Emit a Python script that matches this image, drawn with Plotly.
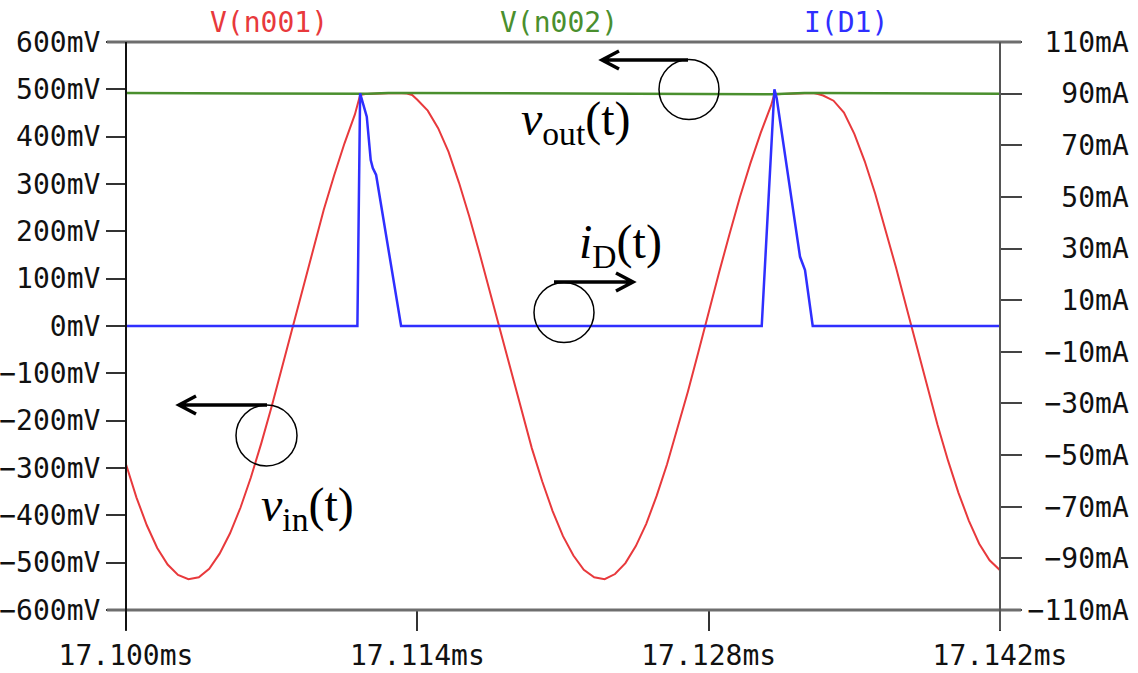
import plotly.graph_objects as go

# ---------------- data ----------------
T0_MS = 17.100

# V(n001): time offset (µs from 17.100 ms) and voltage (mV)
vin_t_us = [0, 0.5, 1.0, 1.5, 2.0, 2.5, 3.0, 3.5, 4.0, 4.5, 5.0, 5.5, 6.0, 6.5, 7.0, 7.5,
            8.0, 8.5, 9.0, 9.5, 10.0, 10.5, 11.0, 11.25, 11.5, 12.0, 12.5, 13.0, 13.5, 13.75,
            14.0, 14.5, 15.0, 15.5, 16.0, 16.5, 17.0, 17.5, 18.0, 18.5, 19.0, 19.5, 20.0,
            20.5, 21.0, 21.5, 22.0, 22.5, 23.0, 23.5, 24.0, 24.5, 25.0, 25.5, 26.0, 26.5,
            27.0, 27.5, 28.0, 28.5, 29.0, 29.5, 30.0, 30.5, 31.0, 31.15, 31.5, 32.0, 32.5,
            33.0, 33.25, 33.5, 34.0, 34.5, 35.0, 35.5, 36.0, 36.5, 37.0, 37.5, 38.0, 38.5,
            39.0, 39.5, 40.0, 40.5, 41.0, 41.5, 42.0]
vin_mv = [-292, -362, -421, -469, -504, -526, -535, -531, -513, -481, -438, -384, -320, -248,
          -170, -87, -2, 83, 166, 245, 318, 386, 447, 488, 490, 491, 492, 492, 491, 488,
          478, 455, 418, 368, 303, 231, 152, 70, -14, -99, -180, -258, -328,
          -391, -444, -485, -515, -531, -535, -524, -501, -465, -418, -359, -292, -218,
          -139, -56, 30, 113, 194, 272, 343, 408, 466, 489, 490, 491, 492,
          492, 490, 487, 476, 451, 406, 348, 280, 204, 124, 40, -45, -128,
          -209, -284, -352, -411, -460, -495, -516]

# V(n002)
vout_t_us = [0, 11.2, 11.6, 12.6, 13.4, 31.0, 31.4, 32.6, 33.3, 42.0]
vout_mv = [492, 489.5, 490.5, 492.5, 492.5, 489.5, 490.5, 492.5, 492.5, 490.5]

# I(D1) in mA
id_t_us = [0, 11.12, 11.25, 11.57, 11.76, 11.86, 12.02, 13.22, 30.55, 31.16, 31.27,
           32.39, 32.63, 33.00, 42.0]
id_ma = [0, 0, 90.1, 81.1, 64.3, 61.2, 58.5, 0, 0, 91.7, 88.2, 26.8, 21.7, 0, 0]

x_ticks = [17.100, 17.114, 17.128, 17.142]
x_ticktext = ["17.100ms", "17.114ms", "17.128ms", "17.142ms"]
yl_ticks = [600, 500, 400, 300, 200, 100, 0, -100, -200, -300, -400, -500, -600]
yr_ticks = [110, 90, 70, 50, 30, 10, -10, -30, -50, -70, -90, -110]

# ---------------- styling helpers ----------------
W, H = 1138, 673
L, R, TOP, BOT = 126, 1000, 42, 610
NB = "\u00a0"
MINUS = "\u2212"


def fx(px):
    return (px - L) / (R - L)


def fy(py):
    return (BOT - py) / (BOT - TOP)


def mv_label(v):
    return (MINUS if v < 0 else "") + f"{abs(v)}mV"


def ma_label(v):
    s = (MINUS if v < 0 else "") + f"{abs(v)}mA"
    return NB * (6 - len(s)) + s


def to_ms(ts):
    return [T0_MS + t / 1000.0 for t in ts]


RED = "#e8393c"
GREEN = "#4a8f2e"
BLUE = "#2f2fff"
MONO = "DejaVu Sans Mono"
SERIF = "Liberation Serif"

fig = go.Figure()
fig.add_trace(go.Scatter(x=to_ms(vin_t_us), y=vin_mv, mode="lines",
                         line=dict(color=RED, width=2), name="V(n001)"))
fig.add_trace(go.Scatter(x=to_ms(vout_t_us), y=vout_mv, mode="lines",
                         line=dict(color=GREEN, width=2.5), name="V(n002)"))
fig.add_trace(go.Scatter(x=to_ms(id_t_us), y=id_ma, mode="lines", yaxis="y2",
                         line=dict(color=BLUE, width=2.5), name="I(D1)"))

tickfont = dict(family=MONO, size=28, color="#111")
fig.update_layout(
    width=W, height=H,
    margin=dict(l=L, r=W - R, t=TOP, b=H - BOT, pad=0, autoexpand=False),
    paper_bgcolor="white", plot_bgcolor="white",
    showlegend=False,
    xaxis=dict(range=[17.100, 17.142], tickvals=x_ticks, ticktext=x_ticktext,
               ticks="outside", ticklen=20, tickwidth=2, tickcolor="#333", automargin=False,
               showgrid=False, zeroline=False, showline=False, tickfont=tickfont),
    yaxis=dict(range=[-600, 600], tickvals=yl_ticks, ticktext=[mv_label(v) for v in yl_ticks],
               ticks="outside", ticklen=19, tickwidth=2, tickcolor="#333", automargin=False,
               showgrid=False, zeroline=False, showline=False, tickfont=tickfont),
    yaxis2=dict(range=[-110, 110], tickvals=yr_ticks, ticktext=[ma_label(v) for v in yr_ticks],
                overlaying="y", side="right", automargin=False,
                ticks="outside", ticklen=21, tickwidth=2, tickcolor="#444",
                showgrid=False, zeroline=False, showline=False, tickfont=tickfont),
)

shapes = []
# frame lines
for yy in (TOP, BOT):
    shapes.append(dict(type="line", xref="paper", yref="paper",
                       x0=fx(107), x1=fx(1021), y0=fy(yy), y1=fy(yy),
                       line=dict(color="#6e6e6e", width=3), layer="above"))
shapes.append(dict(type="line", xref="paper", yref="paper", x0=0, x1=0,
                   y0=fy(630), y1=fy(TOP), line=dict(color="#111", width=2), layer="above"))
shapes.append(dict(type="line", xref="paper", yref="paper", x0=1, x1=1,
                   y0=fy(630), y1=fy(TOP), line=dict(color="#555", width=2), layer="above"))

# circles
for cx, cy, r in [(689, 89.5, 30), (564, 312.5, 30), (266.5, 435.5, 30.5)]:
    shapes.append(dict(type="circle", xref="paper", yref="paper",
                       x0=fx(cx - r), x1=fx(cx + r), y0=fy(cy + r), y1=fy(cy - r),
                       line=dict(color="black", width=1.5), layer="above"))


def arrow_path(x_start, x_tip, y, arm_dx, arm_dy):
    return (f"M {fx(x_start)},{fy(y)} L {fx(x_tip)},{fy(y)} "
            f"M {fx(x_tip + arm_dx)},{fy(y - arm_dy)} L {fx(x_tip)},{fy(y)} "
            f"L {fx(x_tip + arm_dx)},{fy(y + arm_dy)}")


for xs, xt, yy, adx in [(688, 602, 60, 17), (554, 633, 282, -17), (267, 179, 405, 17)]:
    shapes.append(dict(type="path", xref="paper", yref="paper",
                       path=arrow_path(xs, xt, yy, adx, 9),
                       line=dict(color="black", width=3.5), layer="above"))

fig.update_layout(shapes=shapes)

annotations = []
for txt, cx, col in [("V(n001)", 269, RED), ("V(n002)", 558.5, GREEN), ("I(D1)", 846, BLUE)]:
    annotations.append(dict(text=txt, xref="paper", yref="paper", x=fx(cx), y=fy(22),
                            xanchor="center", yanchor="middle", showarrow=False,
                            font=dict(family=MONO, size=28, color=col)))

serif = dict(family=SERIF, size=48, color="black")
for txt, lx, cy in [("<i>v</i><sub>out</sub>(t)", 519, 122),
                    ("<i>i</i><sub>D</sub>(t)", 577, 245),
                    ("<i>v</i><sub>in</sub>(t)", 259, 508)]:
    annotations.append(dict(text=txt, xref="paper", yref="paper", x=fx(lx), y=fy(cy),
                            xanchor="left", yanchor="middle", showarrow=False, font=serif))
fig.update_layout(annotations=annotations)

fig.write_html("out.html")
